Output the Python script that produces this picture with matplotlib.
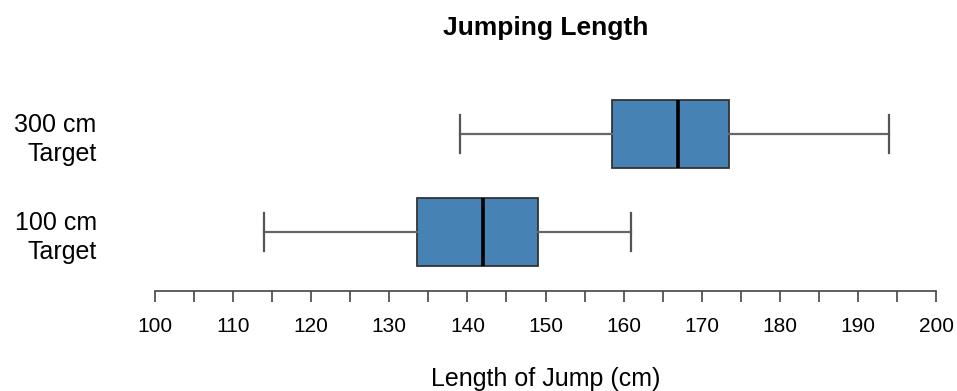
import matplotlib
matplotlib.use('Agg')
import matplotlib.pyplot as plt

# box statistics
groups = ['100 cm\nTarget', '300 cm\nTarget']
whislo = [114, 139]
q1 = [133.5, 158.5]
med = [142, 167]
q3 = [149, 173.5]
whishi = [161, 194]

xticks = list(range(100, 201, 10))
xminor = list(range(105, 200, 10))

plt.rcParams['font.family'] = ['Liberation Sans', 'DejaVu Sans']

W, H = 957, 391
fig = plt.figure(figsize=(W / 100, H / 100), dpi=100)
ax = fig.add_axes([155 / W, 1 - 291 / H, (936 - 155) / W, (291 - 85) / H])

stats = []
for i in range(len(groups)):
    stats.append({'whislo': whislo[i], 'q1': q1[i], 'med': med[i],
                  'q3': q3[i], 'whishi': whishi[i], 'fliers': []})

ax.bxp(stats, positions=[1, 2], vert=False, widths=0.7, capwidths=0.39,
       patch_artist=True, showfliers=False,
       boxprops=dict(facecolor='#4682b4', edgecolor='#333333', linewidth=1.3),
       whiskerprops=dict(color='#666666', linewidth=1.6),
       capprops=dict(color='#555555', linewidth=1.6),
       medianprops=dict(color='black', linewidth=2.6))

ax.set_xlim(100, 200)
ax.set_ylim(0.398, 2.5)

for s in ['top', 'right', 'left']:
    ax.spines[s].set_visible(False)
ax.spines['bottom'].set_bounds(100, 200)
ax.spines['bottom'].set_color('#444444')
ax.spines['bottom'].set_linewidth(1.2)

ax.set_xticks(xticks)
ax.set_xticks(xminor, minor=True)
ax.tick_params(axis='x', which='both', length=8, width=1.2, color='#444444',
               labelsize=15, pad=11)
ax.set_yticks([1, 2])
ax.set_yticklabels(groups, fontsize=18, ha='right', multialignment='right',
                   linespacing=1.3)
ax.tick_params(axis='y', length=0, pad=42)

fig.text(545.5 / W, 1 - 28 / H, 'Jumping Length', ha='center', va='center',
         fontsize=19, fontweight='bold')
fig.text(545.5 / W, 1 - 379 / H, 'Length of Jump (cm)', ha='center',
         va='center', fontsize=18)

fig.savefig('out.png', dpi=100)
